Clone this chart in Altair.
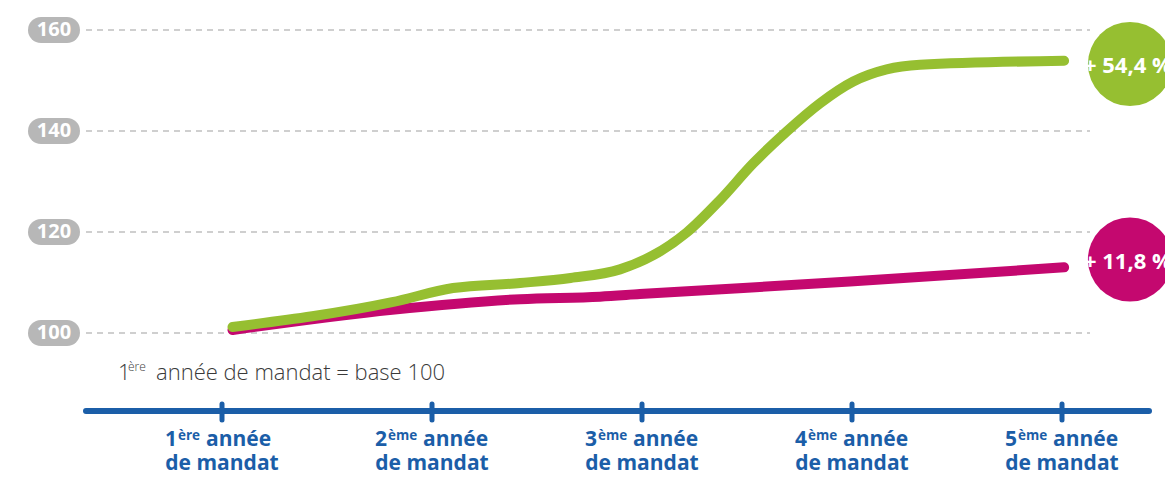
import altair as alt
import pandas as pd

# ---------------- data ----------------
axis_years = [1, 2, 3, 4, 5]
axis_digits = ["1", "2", "3", "4", "5"]
axis_sup = ["ère", "ème", "ème", "ème", "ème"]
axis_word = ["année", "année", "année", "année", "année"]
axis_line2 = ["de mandat", "de mandat", "de mandat", "de mandat", "de mandat"]

y_ticks = [100, 120, 140, 160]
y_tick_labels = ["100", "120", "140", "160"]

green_years = [1.05, 1.81, 2.10, 2.42, 2.66, 2.895, 3.054, 3.213, 3.371, 3.53,
               3.689, 3.848, 4.006, 4.165, 4.324, 5.01]
green_values = [101.2, 106.1, 108.9, 109.9, 110.9, 112.6, 115.4, 119.9, 126.3, 133.6,
                139.9, 145.5, 149.8, 152.2, 153.1, 153.9]

magenta_years = [1.05, 1.81, 2.42, 2.80, 2.99, 3.99, 5.01]
magenta_values = [100.6, 104.6, 106.7, 107.2, 107.7, 110.2, 113.0]

green_label = "+ 54,4 %"
magenta_label = "+ 11,8 %"

note_digit = "1"
note_sup = "ère"
note_rest = "année de mandat = base 100"

# ---------------- styles ----------------
W, H = 1157, 463
GREEN = "#96bf31"
MAGENTA = "#c4086f"
BLUE = "#1b5ea8"
PILL = "#b7b7b7"
GRID = "#c0c0c0"
FONT = "Open Sans"

xs = alt.Scale(domain=[-4 / 210, (W - 4) / 210], nice=False, zero=False)
ys = alt.Scale(domain=[100 - (H - 325) / 5.05, 160 + 22 / 5.05], nice=False, zero=False)

ticks_df = pd.DataFrame({"v": y_ticks, "label": y_tick_labels})
years_df = pd.DataFrame({"year": axis_years, "digit": axis_digits, "sup": axis_sup,
                         "word": axis_word, "line2": axis_line2})
green_df = pd.DataFrame({"year": green_years, "value": green_values})
magenta_df = pd.DataFrame({"year": magenta_years, "value": magenta_values})

Y = lambda: alt.Y("v:Q", scale=ys, axis=None)
X = lambda: alt.X("year:Q", scale=xs, axis=None)

grid = alt.Chart(ticks_df).mark_rule(color=GRID, strokeDash=[6, 5], strokeWidth=1.5).encode(
    y=Y(), x=alt.value(78), x2=alt.value(1082))

pills = alt.Chart(ticks_df).mark_rule(color=PILL, strokeWidth=26, strokeCap="round").encode(
    y=Y(), x=alt.value(33), x2=alt.value(59))

pill_text = alt.Chart(ticks_df).mark_text(font=FONT, fontWeight="bold", fontSize=20, color="white",
                                          align="center", baseline="middle").encode(
    y=Y(), x=alt.value(46), text="label:N")

mag_line = alt.Chart(magenta_df).mark_line(color=MAGENTA, strokeWidth=10, strokeCap="round",
                                           strokeJoin="round", interpolate="monotone").encode(
    x=X(), y=alt.Y("value:Q", scale=ys, axis=None))

green_line = alt.Chart(green_df).mark_line(color=GREEN, strokeWidth=10, strokeCap="round",
                                           strokeJoin="round", interpolate="monotone").encode(
    x=X(), y=alt.Y("value:Q", scale=ys, axis=None))

green_circle = alt.Chart(pd.DataFrame({"t": [green_label]})).mark_circle(
    size=7088, color=GREEN, opacity=1).encode(x=alt.value(1122), y=alt.value(56))
green_text = alt.Chart(pd.DataFrame({"t": [green_label]})).mark_text(
    font=FONT, fontWeight="bold", fontSize=22, color="white", align="left", baseline="middle").encode(
    x=alt.value(1076), y=alt.value(58), text="t:N")

mag_circle = alt.Chart(pd.DataFrame({"t": [magenta_label]})).mark_circle(
    size=7088, color=MAGENTA, opacity=1).encode(x=alt.value(1122), y=alt.value(251.5))
mag_text = alt.Chart(pd.DataFrame({"t": [magenta_label]})).mark_text(
    font=FONT, fontWeight="bold", fontSize=22, color="white", align="left", baseline="middle").encode(
    x=alt.value(1076), y=alt.value(254), text="t:N")

note_df = pd.DataFrame({"d": [note_digit], "s": [note_sup], "r": [note_rest]})
note1 = alt.Chart(note_df).mark_text(font=FONT, fontWeight=300, fontSize=22, color="#3a3a3a",
                                     align="left", baseline="alphabetic").encode(
    x=alt.value(110), y=alt.value(372), text="d:N")
note2 = alt.Chart(note_df).mark_text(font=FONT, fontWeight=300, fontSize=12, color="#3a3a3a",
                                     align="left", baseline="alphabetic").encode(
    x=alt.value(120), y=alt.value(363), text="s:N")
note3 = alt.Chart(note_df).mark_text(font=FONT, fontWeight=300, fontSize=22, color="#3a3a3a",
                                     align="left", baseline="alphabetic").encode(
    x=alt.value(148), y=alt.value(372), text="r:N")

axis_line = alt.Chart(pd.DataFrame({"year": [axis_years[0]]})).mark_rule(
    color=BLUE, strokeWidth=6, strokeCap="round").encode(
    x=alt.value(78), x2=alt.value(1141), y=alt.value(403))

axis_ticks = alt.Chart(years_df).mark_rule(color=BLUE, strokeWidth=5, strokeCap="round").encode(
    x=X(), y=alt.value(396), y2=alt.value(412))

lab_digit = alt.Chart(years_df).mark_text(font=FONT, fontWeight="bold", fontSize=21, color=BLUE,
                                          align="right", baseline="alphabetic", dx=-45).encode(
    x=X(), y=alt.value(438), text="digit:N")
lab_sup = alt.Chart(years_df).mark_text(font=FONT, fontWeight="bold", fontSize=13.5, color=BLUE,
                                        align="left", baseline="alphabetic", dx=-44).encode(
    x=X(), y=alt.value(432), text="sup:N")
lab_word_first = alt.Chart(years_df).transform_filter(alt.datum.sup == "ère").mark_text(
    font=FONT, fontWeight="bold", fontSize=21, color=BLUE,
    align="left", baseline="alphabetic", dx=-16).encode(
    x=X(), y=alt.value(438), text="word:N")
lab_word_rest = alt.Chart(years_df).transform_filter(alt.datum.sup != "ère").mark_text(
    font=FONT, fontWeight="bold", fontSize=21, color=BLUE,
    align="left", baseline="alphabetic", dx=-9).encode(
    x=X(), y=alt.value(438), text="word:N")
lab_line2 = alt.Chart(years_df).mark_text(font=FONT, fontWeight="bold", fontSize=21, color=BLUE,
                                          align="center", baseline="alphabetic").encode(
    x=X(), y=alt.value(462), text="line2:N")

chart = alt.layer(
    grid, pills, pill_text, mag_line, green_line,
    green_circle, green_text, mag_circle, mag_text,
    note1, note2, note3, axis_line, axis_ticks,
    lab_digit, lab_sup, lab_word_first, lab_word_rest, lab_line2
).properties(
    width=W, height=H, padding=0,
    autosize=alt.AutoSizeParams(type="none"),
    background="white"
).configure_view(stroke=None)

chart.save("out.html", embed_options={"renderer": "svg", "actions": False})
